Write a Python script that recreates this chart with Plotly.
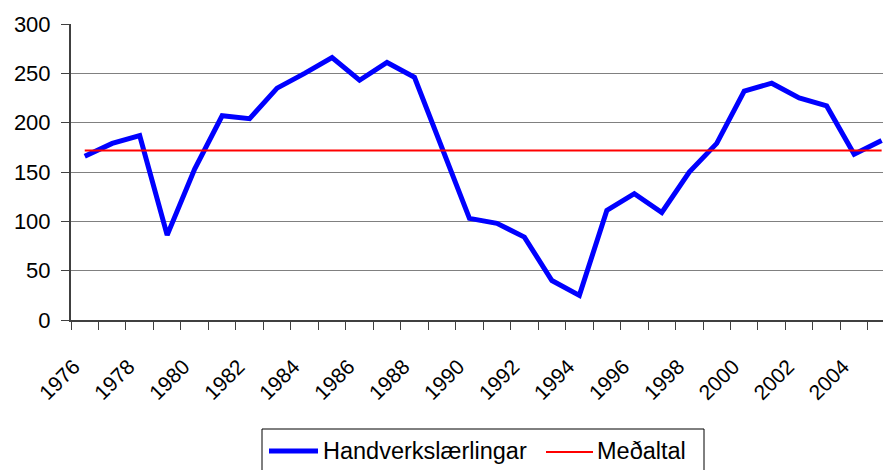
import plotly.graph_objects as go

years = list(range(1976, 2006))
apprentices = [166, 179, 187, 86, 153, 207, 204, 235, 250, 266,
               243, 261, 246, 176, 103, 98, 84, 40, 25, 111,
               128, 109, 150, 179, 232, 240, 225, 217, 168, 182]
mean_value = [171.7] * len(years)
series_names = ["Handverkslærlingar", "Meðaltal"]
x_tick_years = list(range(1976, 2006, 2))
x_tick_labels = [str(y) for y in x_tick_years]
y_ticks = [0, 50, 100, 150, 200, 250, 300]

W, H = 883, 470
L, T, R, B = 71, 24, 883, 320
FONT = "Liberation Sans, Arial, sans-serif"


def px(x):
    return (x - L) / (R - L)


def py(y):
    return (B - y) / (B - T)


fig = go.Figure()
fig.add_trace(go.Scatter(x=years, y=apprentices, mode="lines", name=series_names[0],
                         line=dict(color="#0000FF", width=5)))
fig.add_trace(go.Scatter(x=years, y=mean_value, mode="lines", name=series_names[1],
                         line=dict(color="#FF0000", width=2)))

shapes = [
    dict(type="rect", xref="paper", yref="paper", x0=px(262), x1=px(704), y0=py(429), y1=py(480),
         line=dict(color="black", width=1), fillcolor="white", layer="above"),
    dict(type="line", xref="paper", yref="paper", x0=px(269), x1=px(318), y0=py(451), y1=py(451),
         line=dict(color="#0000FF", width=5), layer="above"),
    dict(type="line", xref="paper", yref="paper", x0=px(546), x1=px(593), y0=py(452), y1=py(452),
         line=dict(color="#FF0000", width=2), layer="above"),
]
annotations = [
    dict(xref="paper", yref="paper", x=px(321), y=py(451), xanchor="left", yanchor="middle",
         text=series_names[0], showarrow=False, font=dict(size=23.5, color="black", family=FONT)),
    dict(xref="paper", yref="paper", x=px(595), y=py(451), xanchor="left", yanchor="middle",
         text=series_names[1], showarrow=False, font=dict(size=23.5, color="black", family=FONT)),
]

fig.update_layout(
    width=W, height=H, autosize=False,
    margin=dict(l=L, r=W - R, t=T, b=H - B, pad=0),
    paper_bgcolor="white", plot_bgcolor="white",
    showlegend=False,
    font=dict(family=FONT, size=22, color="black"),
    shapes=shapes, annotations=annotations,
    xaxis=dict(
        range=[1975.5, 2005.05], tickmode="array", tickvals=x_tick_years, ticktext=x_tick_labels,
        tickangle=-45, ticks="", showgrid=False, zeroline=False,
        showline=True, linecolor="#404040", linewidth=2,
        ticklabelstandoff=24, ticklabelshift=-11,
        tickfont=dict(size=21, family=FONT, color="black"),
        minor=dict(ticks="outside", ticklen=8, tickcolor="#404040", tickwidth=1,
                   tick0=1975.5, dtick=1, showgrid=False),
    ),
    yaxis=dict(
        range=[0, 300], tickmode="array", tickvals=y_ticks,
        ticks="outside", ticklen=8, tickcolor="#404040",
        ticklabelstandoff=6,
        showgrid=True, gridcolor="#808080", gridwidth=1, zeroline=False,
        showline=True, linecolor="#404040", linewidth=2,
        tickfont=dict(size=22, family=FONT, color="black"),
    ),
)

fig.write_html("out.html", config={"displayModeBar": False},
               post_script="document.body.style.margin='0';document.body.style.overflow='hidden';")
